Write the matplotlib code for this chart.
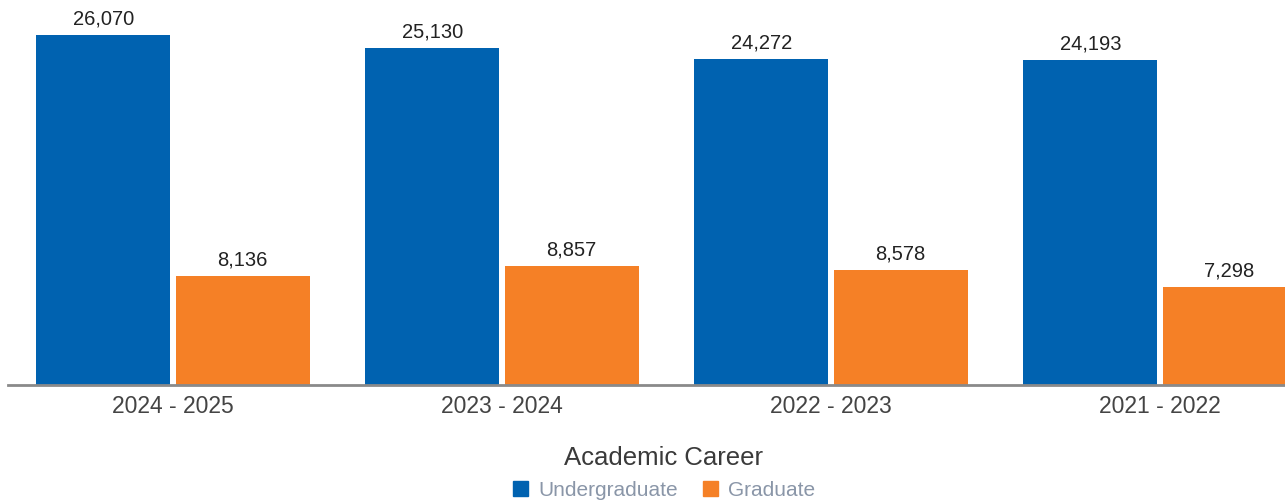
import matplotlib.pyplot as plt
from matplotlib.patches import Patch
import numpy as np

years = ['2024 - 2025', '2023 - 2024', '2022 - 2023', '2021 - 2022']
undergrad = [26070, 25130, 24272, 24193]
graduate = [8136, 8857, 8578, 7298]

blue = '#0062b0'
orange = '#f58026'

plt.rcParams['font.family'] = ['Liberation Sans', 'DejaVu Sans']

fig = plt.figure(figsize=(12.85, 5.04), dpi=100)
ax = fig.add_axes([8 / 1285, 119 / 504, 1 - 8 / 1285, 385 / 504])

x = np.arange(len(years))
w = 0.407
off = 0.2115
b1 = ax.bar(x - off, undergrad, w, color=blue, label='Undergraduate')
b2 = ax.bar(x + off, graduate, w, color=orange, label='Graduate')

for bars, vals in [(b1, undergrad), (b2, graduate)]:
    for b, v in zip(bars, vals):
        ax.annotate(f'{v:,}', (b.get_x() + b.get_width() / 2, v),
                    xytext=(0, 4.5), textcoords='offset points',
                    ha='center', va='bottom', fontsize=14.5, color='#222222')

ax.set_xlim(-0.5015, 3.38)
ax.set_ylim(0, 28680)
ax.set_xticks(x)
ax.set_xticklabels(years, fontsize=16.5, color='#444444')
ax.tick_params(axis='x', length=0, pad=7)
ax.set_yticks([])
for s in ['top', 'right', 'left']:
    ax.spines[s].set_visible(False)
ax.spines['bottom'].set_color('#8a8a8a')
ax.spines['bottom'].set_linewidth(2)
ax.spines['bottom'].set_zorder(3)

fig.text(0.516, 1 - 458 / 504, 'Academic Career', ha='center', va='center',
         fontsize=18.5, color='#3a3a3a')

handles = [Patch(color=blue, label='Undergraduate'), Patch(color=orange, label='Graduate')]
leg = fig.legend(handles=handles, loc='center', bbox_to_anchor=(0.517, 1 - 490 / 504),
                 ncol=2, frameon=False, fontsize=15, handlelength=0.7, handleheight=0.7,
                 handletextpad=0.5, columnspacing=1.2, labelcolor='#8a96a8')

fig.savefig('out.png', dpi=100)
